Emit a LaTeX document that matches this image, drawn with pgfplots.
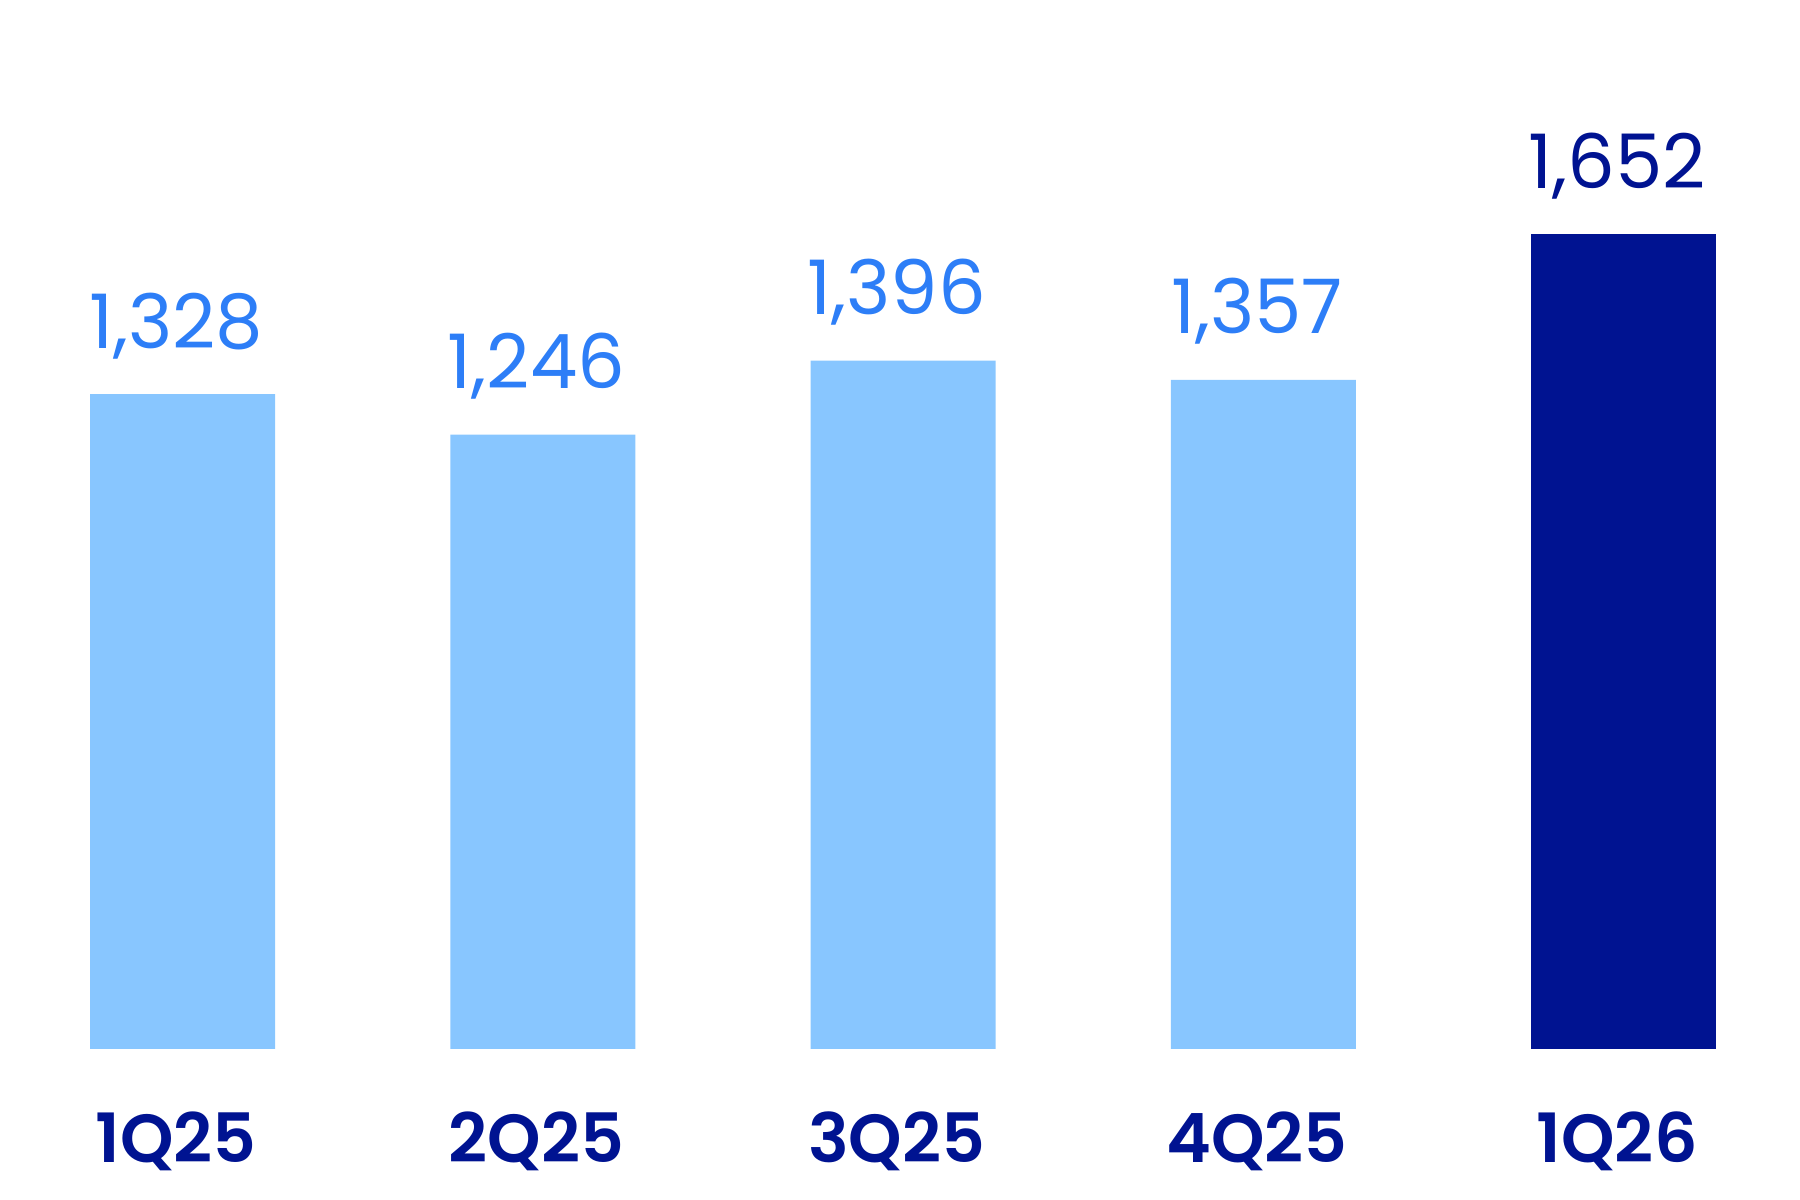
\documentclass[border=0pt]{standalone}
\usepackage{pgfplots}
\pgfplotsset{compat=1.18}
\usepackage{fontspec}
\setmainfont{Poppins}
\newfontface\catfont{Poppins SemiBold}
\definecolor{barlight}{HTML}{88C6FF}
\definecolor{bardark}{HTML}{001391}
\definecolor{labelblue}{HTML}{2D7EF7}

\begin{document}
\begin{tikzpicture}
% fix page to 450pt x 300pt
\path (0,0) rectangle (450pt,300pt);
\begin{axis}[
    at={(0pt,37.8pt)}, anchor=south west,
    scale only axis,
    width=450pt, height=262.2pt,
    xmin=-0.507, xmax=4.4897,
    ymin=0, ymax=2127.5,
    axis x line=bottom, axis y line=none,
    x axis line style={draw=none},
    major tick length=0pt,
    clip=false,
    xtick={0,1,2,3,4},
    xticklabels={1Q25,2Q25,3Q25,4Q25,1Q26},
    x tick label style={anchor=base, yshift=-28.3pt, xshift=-1.6pt, text=bardark,
        font=\catfont\fontsize{17}{20}\selectfont},
    ytick=\empty,
    point meta=explicit symbolic,
    nodes near coords,
    every node near coord/.append style={anchor=base, yshift=11.5pt, xshift=-1.6pt,
        font=\fontsize{18.8}{22}\selectfont},
]
\addplot[ybar, bar width=46.2pt, bar shift=0pt, fill=barlight, draw=none,
    every node near coord/.append style={text=labelblue}]
    coordinates {(0,1328) [1,328] (1,1246) [1,246] (2,1396) [1,396] (3,1357) [1,357]};
\addplot[ybar, bar width=46.2pt, bar shift=0pt, fill=bardark, draw=none,
    every node near coord/.append style={text=bardark}]
    coordinates {(4,1652) [1,652]};
\end{axis}
\end{tikzpicture}
\end{document}
